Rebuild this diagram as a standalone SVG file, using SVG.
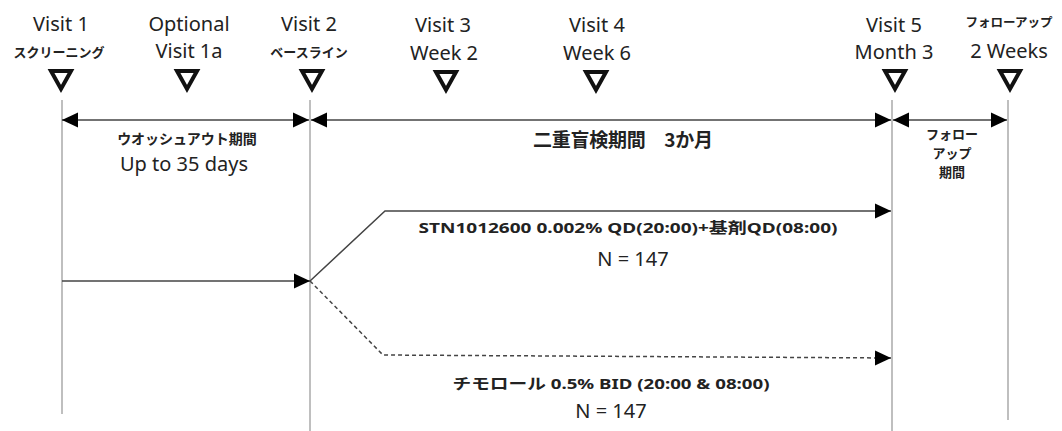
<svg xmlns="http://www.w3.org/2000/svg" width="1062" height="431" viewBox="0 0 1062 431">
<style>
.t{font-family:"Noto Sans","Noto Sans CJK JP",sans-serif;font-size:20px;fill:#222;text-anchor:middle}
.b{font-family:"Noto Sans CJK JP","Noto Sans",sans-serif;font-size:13px;font-weight:bold;fill:#222;text-anchor:middle}
.bm{font-family:"Noto Sans","Noto Sans CJK JP",sans-serif;font-size:15px;font-weight:bold;fill:#222;text-anchor:middle}
.tri{fill:none;stroke:#111;stroke-width:4;stroke-linejoin:miter}
.vl{stroke:#aaa;stroke-width:1.5}
.ln{stroke:#444;stroke-width:1.5;fill:none}
</style>
<defs>
<marker id="ah" markerWidth="16" markerHeight="16" viewBox="0 0 16 16" refX="16" refY="8" orient="auto-start-reverse" markerUnits="userSpaceOnUse">
<path d="M0,0.5 L16,8 L0,15.5 Z" fill="#000"/>
</marker>
</defs>
<g id="timeline-lines">
<line class="vl" x1="62" y1="100" x2="62" y2="414"/>
<line class="vl" x1="310" y1="100" x2="310" y2="431"/>
<line class="vl" x1="892" y1="100" x2="892" y2="431"/>
<line class="vl" x1="1008" y1="100" x2="1008" y2="420"/>
</g>
<g id="visit1"><text class="t" x="61" y="31">Visit 1</text><text class="b" x="59" y="57">スクリーニング</text><path class="tri" d="M51,71 L71,71 L61,89 Z"/></g>
<g id="visit1a"><text class="t" x="189" y="31">Optional</text><text class="t" x="189" y="58">Visit 1a</text><path class="tri" d="M177,71 L197,71 L187,89 Z"/></g>
<g id="visit2"><text class="t" x="309" y="31">Visit 2</text><text class="b" x="309" y="57">ベースライン</text><path class="tri" d="M302,71 L322,71 L312,89 Z"/></g>
<g id="visit3"><text class="t" x="443" y="32">Visit 3</text><text class="t" x="444" y="60">Week 2</text><path class="tri" d="M436,72 L456,72 L446,90 Z"/></g>
<g id="visit4"><text class="t" x="597" y="32">Visit 4</text><text class="t" x="597" y="60">Week 6</text><path class="tri" d="M586,72 L606,72 L596,90 Z"/></g>
<g id="visit5"><text class="t" x="894" y="32">Visit 5</text><text class="t" x="894" y="59">Month 3</text><path class="tri" d="M885,71 L905,71 L895,89 Z"/></g>
<g id="followup"><text class="b" x="1009" y="27" style="font-size:12.5px">フォローアップ</text><text class="t" x="1009" y="58">2 Weeks</text><path class="tri" d="M1000,71 L1020,71 L1010,89 Z"/></g>
<g id="washout"><text class="b" x="187" y="144" style="font-size:14px">ウオッシュアウト期間</text><text class="t" x="184" y="171">Up to 35 days</text></g>
<g id="double-blind"><text class="b" x="623" y="147" style="font-size:19px" textLength="180" xml:space="preserve">二重盲検期間　3か月</text></g>
<g id="followup-period"><text class="b" x="952" y="139">フォロー</text><text class="b" x="952" y="158">アップ</text><text class="b" x="952" y="177">期間</text></g>
<g id="arm-stn"><text class="bm" x="628" y="233" textLength="419" lengthAdjust="spacingAndGlyphs">STN1012600 0.002% QD(20:00)+基剤QD(08:00)</text><text class="t" x="633" y="266">N = 147</text></g>
<g id="arm-timolol"><text class="bm" x="611" y="389" textLength="317" lengthAdjust="spacingAndGlyphs">チモロール 0.5% BID (20:00 &amp; 08:00)</text><text class="t" x="611" y="418">N = 147</text></g>
<g id="connectors">
<line class="ln" x1="62" y1="120" x2="309" y2="120" marker-start="url(#ah)" marker-end="url(#ah)"/>
<line class="ln" x1="311" y1="120" x2="891" y2="120" marker-start="url(#ah)" marker-end="url(#ah)"/>
<line class="ln" x1="893" y1="120" x2="1007" y2="120" marker-start="url(#ah)" marker-end="url(#ah)"/>
<line class="ln" x1="62" y1="281" x2="310" y2="281" marker-end="url(#ah)"/>
<polyline class="ln" points="310,281 385,211 891,211" marker-end="url(#ah)"/>
<polyline class="ln" points="310,281 383,355 891,358" stroke-dasharray="4,3" marker-end="url(#ah)"/>
</g>
</svg>
